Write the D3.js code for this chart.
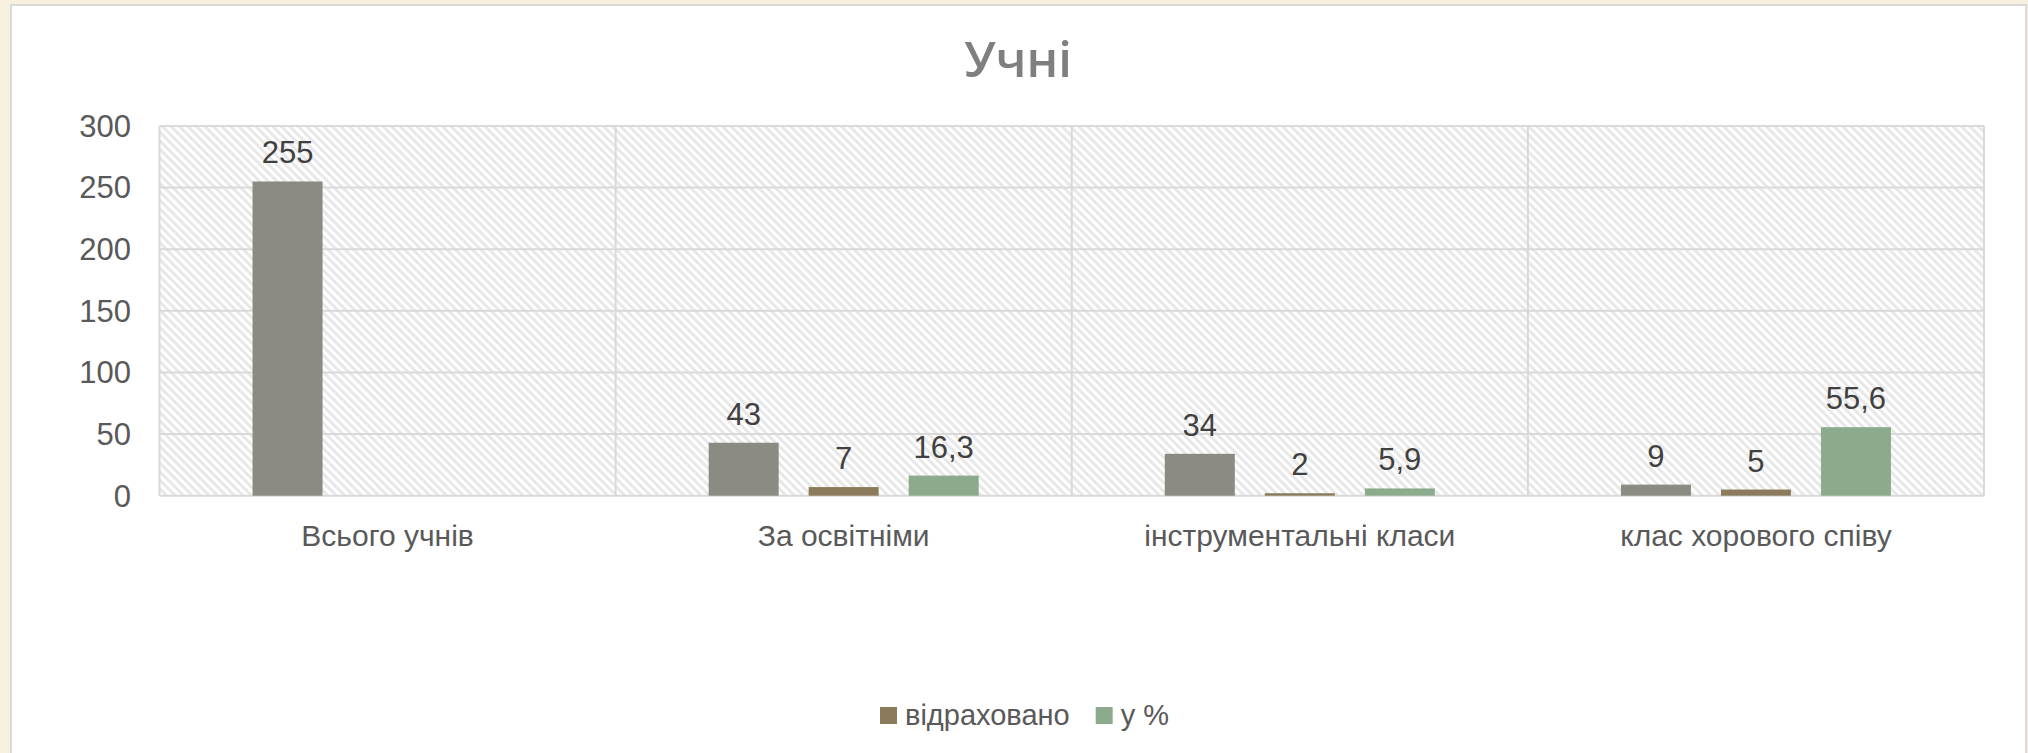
<!DOCTYPE html>
<html lang="uk">
<head>
  <meta charset="UTF-8">
  <title>Учні</title>
  <style>
    body {
      margin: 0;
      padding: 0;
      background: #f8f0df;
      font-family: "Liberation Sans", Arial, sans-serif;
    }
    svg { display: block; }
  </style>
</head>
<body>
<svg width="2028" height="753"></svg>
<script src="https://d3js.org/d3.v7.min.js"></script>
<script>
// --- data ---
const categories = ["Всього учнів", "За освітніми", "інструментальні класи", "клас хорового співу"];
const seriesNames = ["учні", "відраховано", "у %"];
const pupils   = [255, 43, 34, 9];
const expelled = [null, 7, 2, 5];
const percent  = [null, 16.3, 5.9, 55.6];
const yTicks = [0, 50, 100, 150, 200, 250, 300];
const colors = ["#8b8b84", "#8b7b5c", "#8cab8c"];

const seriesValues = [pupils, expelled, percent];

const W = 2028, H = 753;
const plot = {left: 159.5, right: 1984, top: 126, bottom: 495.7};

const svg = d3.select("svg");

// panel
svg.append("rect")
  .attr("x", 11).attr("y", 5)
  .attr("width", 2015).attr("height", H)
  .attr("fill", "#fff")
  .attr("stroke", "#d9d9d9")
  .attr("stroke-width", 2);

// hatch pattern for plot area
const defs = svg.append("defs");
const pat = defs.append("pattern")
  .attr("id", "hatch")
  .attr("patternUnits", "userSpaceOnUse")
  .attr("width", 6).attr("height", 6)
  .attr("patternTransform", "rotate(-45)");
pat.append("rect").attr("width", 6).attr("height", 6).attr("fill", "#fff");
pat.append("rect").attr("width", 3).attr("height", 6).attr("fill", "#e8e8e8");

// scales
const x0 = d3.scaleBand()
  .domain(categories)
  .range([plot.left, plot.right])
  .paddingInner(0.408)
  .paddingOuter(0.204);

const x1 = d3.scaleBand()
  .domain(d3.range(seriesNames.length))
  .range([0, x0.bandwidth()])
  .paddingInner(0.3);

const y = d3.scaleLinear()
  .domain([0, 300])
  .range([plot.bottom, plot.top]);

// plot background
svg.append("rect")
  .attr("x", plot.left).attr("y", plot.top)
  .attr("width", plot.right - plot.left)
  .attr("height", plot.bottom - plot.top)
  .attr("fill", "url(#hatch)");

// horizontal gridlines
svg.append("g")
  .selectAll("line")
  .data(yTicks)
  .join("line")
  .attr("x1", plot.left).attr("x2", plot.right)
  .attr("y1", d => y(d)).attr("y2", d => y(d))
  .attr("stroke", "#d9d9d9")
  .attr("stroke-width", 2);

// vertical category separators
const step = x0.step();
svg.append("g")
  .selectAll("line")
  .data(d3.range(categories.length + 1))
  .join("line")
  .attr("x1", i => plot.left + i * step)
  .attr("x2", i => plot.left + i * step)
  .attr("y1", plot.top).attr("y2", plot.bottom)
  .attr("stroke", "#d9d9d9")
  .attr("stroke-width", 2);

// y-axis labels
svg.append("g")
  .selectAll("text")
  .data(yTicks)
  .join("text")
  .attr("x", 131)
  .attr("y", d => y(d))
  .attr("dy", "0.35em")
  .attr("text-anchor", "end")
  .attr("font-size", 31)
  .attr("fill", "#595959")
  .text(d => d);

// bars
const barData = [];
categories.forEach((c, ci) => {
  seriesValues.forEach((vals, si) => {
    if (vals[ci] != null) barData.push({cat: c, s: si, v: vals[ci]});
  });
});

svg.append("g")
  .selectAll("rect")
  .data(barData)
  .join("rect")
  .attr("x", d => x0(d.cat) + x1(d.s))
  .attr("width", x1.bandwidth())
  .attr("y", d => y(d.v))
  .attr("height", d => y(0) - y(d.v))
  .attr("fill", d => colors[d.s]);

// data labels
svg.append("g")
  .selectAll("text")
  .data(barData)
  .join("text")
  .attr("x", d => x0(d.cat) + x1(d.s) + x1.bandwidth() / 2)
  .attr("y", d => y(d.v) - 18)
  .attr("text-anchor", "middle")
  .attr("font-size", 31)
  .attr("fill", "#404040")
  .text(d => String(d.v).replace(".", ","));

// category labels
svg.append("g")
  .selectAll("text")
  .data(categories)
  .join("text")
  .attr("x", d => x0(d) + x0.bandwidth() / 2)
  .attr("y", 546)
  .attr("text-anchor", "middle")
  .attr("font-size", 30)
  .attr("fill", "#595959")
  .text(d => d);

// title
svg.append("text")
  .attr("x", 1018)
  .attr("y", 77)
  .attr("text-anchor", "middle")
  .attr("font-family", "'Open Sans', sans-serif")
  .attr("font-size", 49)
  .attr("font-weight", 600)
  .attr("fill", "#7f7f7f")
  .text("Учні");

// legend (only the last two series)
const legendItems = [1, 2];
const legend = svg.append("g");
let lx = 880;
legendItems.forEach(si => {
  legend.append("rect")
    .attr("x", lx).attr("y", 707)
    .attr("width", 17).attr("height", 17)
    .attr("fill", colors[si]);
  const t = legend.append("text")
    .attr("x", lx + 25)
    .attr("y", 725)
    .attr("font-size", 29)
    .attr("fill", "#595959")
    .text(seriesNames[si]);
  lx += 25 + t.node().getComputedTextLength() + 26;
});
</script>
</body>
</html>
